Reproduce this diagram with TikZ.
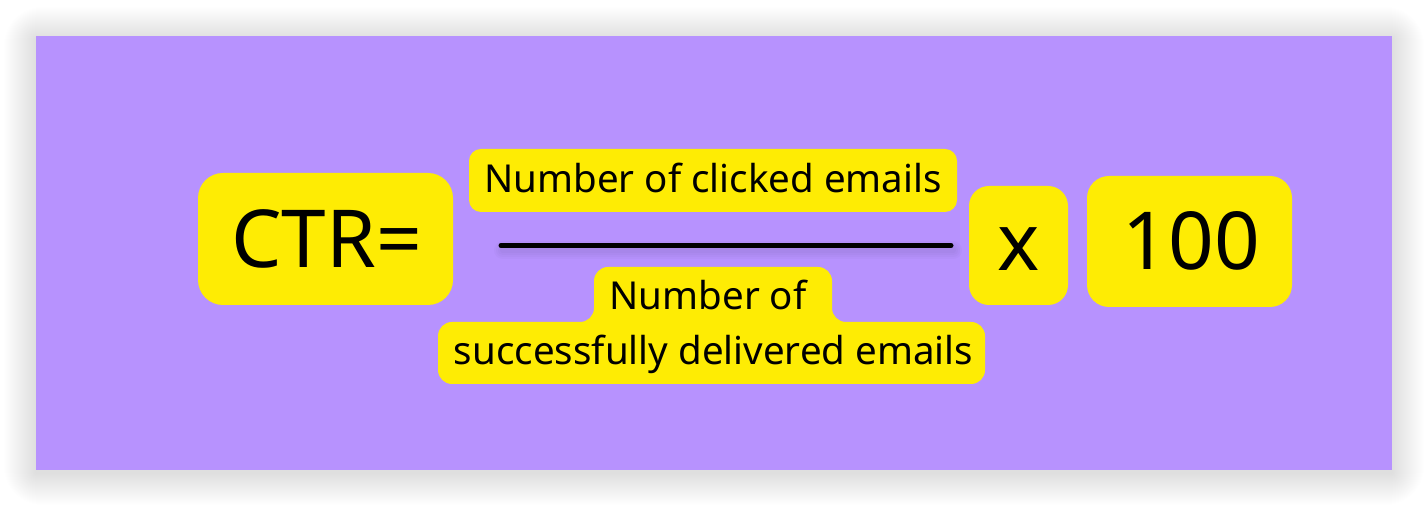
\documentclass[tikz,border=0pt]{standalone}
\usepackage{fontspec}
\setmainfont{Noto Sans}
\usepackage{tikz}
\usetikzlibrary{positioning,calc}
\definecolor{panelcolor}{RGB}{183,146,254}
\definecolor{boxcolor}{RGB}{254,236,4}
\tikzset{
  boxbase/.style={fill=boxcolor, inner sep=0pt, text=black},
  bigbox/.style={boxbase, rounded corners=#1},
  bigtxt/.style={font=\fontsize{40}{48}\selectfont, inner sep=0pt},
  smalltxt/.style={font=\fontsize{19.25}{23}\selectfont, inner sep=0pt, anchor=base},
  barln/.style={line width=2.5pt, line cap=round},
}
\newcommand{\softshade}[4]{%
  \foreach \s in {1,...,32}
    \fill[black, opacity=0.005, rounded corners=0.6*\s pt]
      ($(#1,#2)+(-\s,-\s+3)$) rectangle ($(#3,#4)+(\s,\s+3)$);
}
\begin{document}
\begin{tikzpicture}[x=0.5pt, y=-0.5pt]
    \useasboundingbox (0,0) rectangle (1428,506);
    % Panel with its shadow
    \softshade{36}{36}{1392}{470}
    \fill[panelcolor] (36,36) rectangle (1392,470);
    % Left side
    \node[bigbox=12.5pt, minimum width=127.5pt, minimum height=66pt] (ctrbox) at (325.5,239) {};
    \node[bigtxt, anchor=base] (ctr) at (326.5,268) {CTR=};
    % Numerator
    \node[bigbox=6pt, minimum width=244pt, minimum height=31.5pt] (numbox) at (713,180.5) {};
    \node[smalltxt] (num) at (713,193) {Number of clicked emails};
    % Fraction bar
    \coordinate (barL) at (501,245.5);
    \coordinate (barR) at (951,245.5);
    \foreach \w in {3,5,7,9}
      \draw[black, opacity=0.02, line width=\w pt, line cap=round] ($(barL)+(2,5)$) -- ($(barR)+(2,5)$);
    \draw[barln] (barL) -- (barR);
    % Denominator: two boxes joined in one outline
    \fill[boxcolor, rounded corners=7pt]
      (713,267) -- (832,267) -- (832,322) -- (985,322) -- (985,384)
      -- (438,384) -- (438,322) -- (594,322) -- (594,267) -- cycle;
    \node[smalltxt] (denA) at (708,310) {Number of};
    \node[smalltxt] (denB) at (713.5,365) {successfully delivered emails};
    % Times 100
    \node[bigbox=10pt, minimum width=49.5pt, minimum height=59.5pt] (timesbox) at (1018.5,245.5) {};
    \node[bigtxt, anchor=base] (times) at (1018.5,271) {x};
    \node[bigbox=11pt, minimum width=102.5pt, minimum height=65.5pt] (hundbox) at (1189.5,241.5) {};
    \node[bigtxt, anchor=base] (hund) at (1191.5,270) {100};
  \end{tikzpicture}
\end{document}
